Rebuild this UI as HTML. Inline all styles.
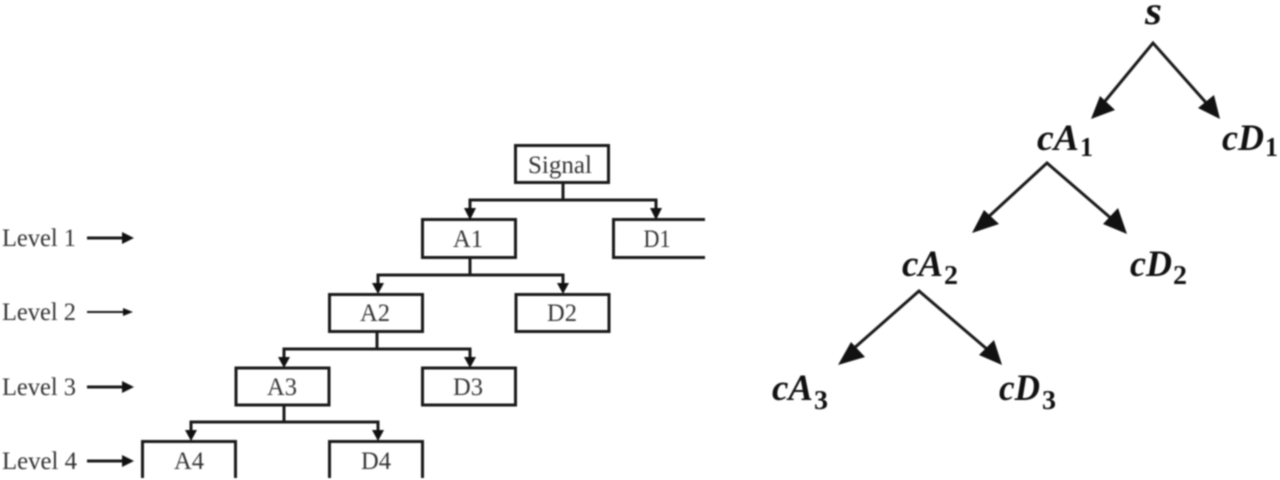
<!DOCTYPE html>
<html>
<head>
<meta charset="utf-8">
<style>
html,body{margin:0;padding:0;background:#fff;width:1280px;height:480px;overflow:hidden}
svg{display:block;filter:blur(0.7px)}
.t{font-family:"Liberation Serif",serif;font-size:25px;fill:#333;text-anchor:middle}
.l{font-family:"Liberation Serif",serif;font-size:25px;fill:#333}
.m{font-family:"Liberation Serif",serif;font-size:37px;font-style:italic;font-weight:bold;fill:#111}
.d{font-family:"Liberation Serif",serif;font-size:27px;font-weight:bold;fill:#111}
.b{fill:none;stroke:#1a1a1a;stroke-width:3}
.c{fill:none;stroke:#1a1a1a;stroke-width:3}
.r{fill:none;stroke:#1a1a1a;stroke-width:3}
.h{fill:#111}
</style>
</head>
<body>
<svg width="1280" height="480" viewBox="0 0 1280 480" xmlns="http://www.w3.org/2000/svg">
<!-- Boxes -->
<rect class="b" x="515.5" y="145.5" width="93" height="37"/>
<rect class="b" x="422.5" y="219.5" width="93" height="38"/>
<path class="b" d="M705 219.5H613.5V257.5H705"/>
<rect class="b" x="329.5" y="294.5" width="93" height="37"/>
<rect class="b" x="516" y="294.5" width="93" height="37"/>
<rect class="b" x="236" y="368" width="93" height="37"/>
<rect class="b" x="422.5" y="368" width="93" height="37"/>
<path class="b" d="M142.5 478V441.5H235.5V478"/>
<path class="b" d="M329.5 478V441.5H422.5V478"/>

<!-- Connectors -->
<path class="c" d="M563 183V200M470 212V200H656V212"/>
<path class="h" d="M464 208H476L470 220ZM650 208H662L656 220Z"/>
<path class="c" d="M470 258V275M378 286V275H563V286"/>
<path class="h" d="M372 283H384L378 294ZM557 283H569L563 294Z"/>
<path class="c" d="M377 332V349M284 360V349H470V360"/>
<path class="h" d="M278 357H290L284 368ZM464 357H476L470 368Z"/>
<path class="c" d="M284 405V422M191 433V422H378V433"/>
<path class="h" d="M185 430H197L191 441ZM372 430H384L378 441Z"/>

<!-- Level arrows -->
<path class="c" d="M87 238H124"/><path class="h" d="M122 232L134 238L122 244Z"/>
<path stroke="#1a1a1a" stroke-width="2" fill="none" d="M87 312H124"/><path class="h" d="M123 308L133 312L123 316Z"/>
<path class="c" d="M87 387H124"/><path class="h" d="M122 381L134 387L122 393Z"/>
<path class="c" d="M87 461H124"/><path class="h" d="M122 455L134 461L122 467Z"/>

<!-- Labels -->
<text class="l" x="2" y="246" textLength="74" lengthAdjust="spacingAndGlyphs">Level 1</text>
<text class="l" x="2" y="320" textLength="74" lengthAdjust="spacingAndGlyphs">Level 2</text>
<text class="l" x="2" y="395" textLength="74" lengthAdjust="spacingAndGlyphs">Level 3</text>
<text class="l" x="2" y="469" textLength="75" lengthAdjust="spacingAndGlyphs">Level 4</text>
<text class="t" x="560" y="173" textLength="64" lengthAdjust="spacingAndGlyphs">Signal</text>
<text class="t" x="468" y="247" textLength="30" lengthAdjust="spacingAndGlyphs">A1</text>
<text class="t" x="657" y="247" textLength="27" lengthAdjust="spacingAndGlyphs">D1</text>
<text class="t" x="375" y="321" textLength="30" lengthAdjust="spacingAndGlyphs">A2</text>
<text class="t" x="562" y="321" textLength="30" lengthAdjust="spacingAndGlyphs">D2</text>
<text class="t" x="282" y="395" textLength="30" lengthAdjust="spacingAndGlyphs">A3</text>
<text class="t" x="468" y="395" textLength="30" lengthAdjust="spacingAndGlyphs">D3</text>
<text class="t" x="189" y="469" textLength="30" lengthAdjust="spacingAndGlyphs">A4</text>
<text class="t" x="376" y="469" textLength="30" lengthAdjust="spacingAndGlyphs">D4</text>

<!-- Right tree -->
<path class="r" d="M1101 106L1153 43L1209 106"/>
<path class="h" d="M1091 119L1100 96L1115 110ZM1220 119L1198 108L1214 95Z"/>
<path class="r" d="M985 220L1047 163L1113 220"/>
<path class="h" d="M972 233L984 210L999 224ZM1127 234L1103 224L1118 208Z"/>
<path class="r" d="M852 350L919 291L988 350"/>
<path class="h" d="M838 365L851 342L865 357ZM1002 365L979 355L994 340Z"/>

<text class="m" x="1145" y="24" style="font-size:40px" textLength="17" lengthAdjust="spacingAndGlyphs">s</text>
<text class="m" x="1037" y="150" textLength="42" lengthAdjust="spacingAndGlyphs">cA</text>
<text class="d" x="1080" y="156" textLength="13" lengthAdjust="spacingAndGlyphs">1</text>
<text class="m" x="1222" y="150" textLength="42" lengthAdjust="spacingAndGlyphs">cD</text>
<text class="d" x="1265" y="156" textLength="13" lengthAdjust="spacingAndGlyphs">1</text>
<text class="m" x="902" y="276" textLength="41" lengthAdjust="spacingAndGlyphs">cA</text>
<text class="d" x="944" y="284" textLength="14" lengthAdjust="spacingAndGlyphs">2</text>
<text class="m" x="1130" y="276" textLength="42" lengthAdjust="spacingAndGlyphs">cD</text>
<text class="d" x="1173" y="284" textLength="14" lengthAdjust="spacingAndGlyphs">2</text>
<text class="m" x="772" y="400" textLength="41" lengthAdjust="spacingAndGlyphs">cA</text>
<text class="d" x="814" y="409" textLength="14" lengthAdjust="spacingAndGlyphs">3</text>
<text class="m" x="999" y="400" textLength="41" lengthAdjust="spacingAndGlyphs">cD</text>
<text class="d" x="1042" y="409" textLength="14" lengthAdjust="spacingAndGlyphs">3</text>
</svg>
</body>
</html>
